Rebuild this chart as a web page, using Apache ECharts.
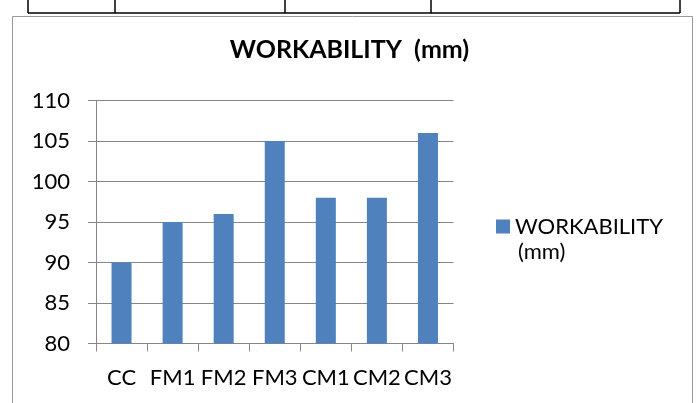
<!DOCTYPE html>
<html>
<head>
<meta charset="utf-8">
<title>Workability</title>
<script src="https://cdn.jsdelivr.net/npm/echarts@6/dist/echarts.min.js"></script>
<style>
  html, body { margin: 0; padding: 0; background: #fff; }
  #chart { width: 699px; height: 403px; }
</style>
</head>
<body>
<div id="chart"></div>
<script>
// data
const categories = ["CC", "FM1", "FM2", "FM3", "CM1", "CM2", "CM3"];
const workability = [90, 95, 96, 105, 98, 98, 106];
const seriesName = "WORKABILITY (mm)";
const titleText = "WORKABILITY  (mm)";

const FONT = "Lato, 'Open Sans', sans-serif";
const gridColor = "#868686";

const chart = echarts.init(document.getElementById("chart"), null, { renderer: "canvas" });

// bits of the page around the chart (table edge + chart frame)
const tableCols = [28, 115, 285, 431, 680];
const decor = tableCols.map(x => ({
    type: "line",
    shape: { x1: x, y1: 0, x2: x, y2: 13 },
    style: { stroke: "#000", lineWidth: 1.5 }
}));
decor.push({
    type: "line",
    shape: { x1: 28, y1: 13, x2: 680, y2: 13 },
    style: { stroke: "#000", lineWidth: 1.5 }
});
decor.push({
    type: "rect",
    shape: { x: 12.5, y: 16.5, width: 680, height: 400 },
    style: { fill: "none", stroke: "#999", lineWidth: 1 }
});
// legend label wraps onto a second line in the original
decor.push({
    type: "text",
    left: 518,
    top: 241,
    style: { text: "(mm)", font: "22px " + FONT, fill: "#000" }
});

chart.setOption({
    animation: false,
    backgroundColor: "#fff",
    textStyle: { fontFamily: FONT },
    graphic: decor,
    title: {
        text: titleText,
        left: "center",
        top: 37,
        padding: 0,
        textStyle: {
            fontFamily: FONT,
            fontSize: 25,
            fontWeight: "bold",
            color: "#000"
        }
    },
    legend: {
        orient: "vertical",
        left: 496,
        top: 214,
        padding: 0,
        itemWidth: 14,
        itemHeight: 14,
        icon: "rect",
        formatter: () => "WORKABILITY",
        textStyle: {
            fontFamily: FONT,
            fontSize: 22,
            color: "#000",
            lineHeight: 25
        }
    },
    grid: {
        left: 96,
        top: 100.5,
        right: 245.5,
        bottom: 59.5,
        containLabel: false
    },
    xAxis: {
        type: "category",
        data: categories,
        axisLine: { lineStyle: { color: gridColor, width: 1 } },
        axisTick: { show: true, length: 8, alignWithLabel: false, lineStyle: { color: gridColor } },
        axisLabel: {
            interval: 0,
            margin: 23,
            fontFamily: FONT,
            fontSize: 22,
            color: "#000"
        }
    },
    yAxis: {
        type: "value",
        min: 80,
        max: 110,
        interval: 5,
        axisLine: { show: true, lineStyle: { color: gridColor, width: 1 } },
        axisTick: { show: true, length: 8, lineStyle: { color: gridColor } },
        splitLine: { show: true, lineStyle: { color: gridColor, width: 1 } },
        axisLabel: {
            margin: 26,
            fontFamily: FONT,
            fontSize: 22,
            color: "#000"
        }
    },
    series: [
        {
            name: seriesName,
            type: "bar",
            data: workability,
            barWidth: 20,
            itemStyle: { color: "#4F81BD" }
        }
    ]
});
</script>
</body>
</html>
